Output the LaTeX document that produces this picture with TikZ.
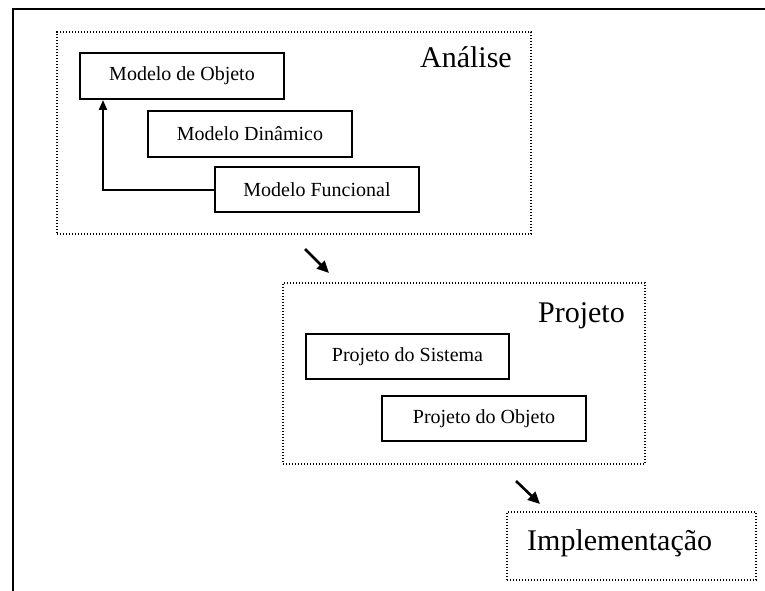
\documentclass[tikz,border=0pt]{standalone}
\usepackage{fontspec}
\setmainfont{Liberation Serif}
\usetikzlibrary{arrows.meta}
\begin{document}
\begin{tikzpicture}[x=1pt,y=-1pt,
  box/.style={draw,line width=2pt,rectangle,inner sep=0pt,
    minimum width=204pt,minimum height=46pt,
    font=\fontsize{20}{24}\selectfont},
  phase/.style={draw,line width=1.3pt,dash pattern=on 1.1pt off 1.9pt,rectangle,inner sep=0pt},
  phaselabel/.style={font=\fontsize{30}{36}\selectfont,inner sep=0pt},
  flow/.style={line width=2.6pt,-{Triangle[length=12pt,width=11pt]}},
  link/.style={line width=2pt,-{Triangle[length=10pt,width=8pt]}}]
  \useasboundingbox (0,0) rectangle (765,591);
  % page frame (top and left edges)
  \draw[line width=2.5pt] (765,9) -- (13,9) -- (13,591);

  % analysis phase
  \node[phase,minimum width=474pt,minimum height=202pt] (analise) at (294,133) {};
  \node[phaselabel,anchor=base east] (lanalise) at (512,68) {Análise};
  \node[box] (mo) at (182,76) {Modelo de Objeto};
  \node[box] (md) at (250,134) {Modelo Dinâmico};
  \node[box,minimum height=45pt] (mf) at (317,189.5) {Modelo Funcional};
  \draw[link] (mf.west) -| ([xshift=-79pt]mo.south);

  % design phase
  \node[phase,minimum width=362pt,minimum height=181pt] (projeto) at (464,373.5) {};
  \node[phaselabel,anchor=base east] (lprojeto) at (625,322) {Projeto};
  \node[box,minimum width=203pt,minimum height=45pt] (ps) at (407.5,356.5) {Projeto do Sistema};
  \node[box,minimum height=45pt] (po) at (484,418.5) {Projeto do Objeto};

  % implementation phase
  \node[phase,minimum width=249pt,minimum height=68pt] (impl) at (631.5,546) {};
  \node[phaselabel,anchor=base west] (limpl) at (527,550) {Implementação};

  % phase transitions
  \coordinate (t1s) at (305,249);
  \coordinate (t1e) at (329,273);
  \coordinate (t2s) at (516,481);
  \coordinate (t2e) at (540,504);
  \draw[flow] (t1s) -- (t1e);
  \draw[flow] (t2s) -- (t2e);
\end{tikzpicture}
\end{document}
